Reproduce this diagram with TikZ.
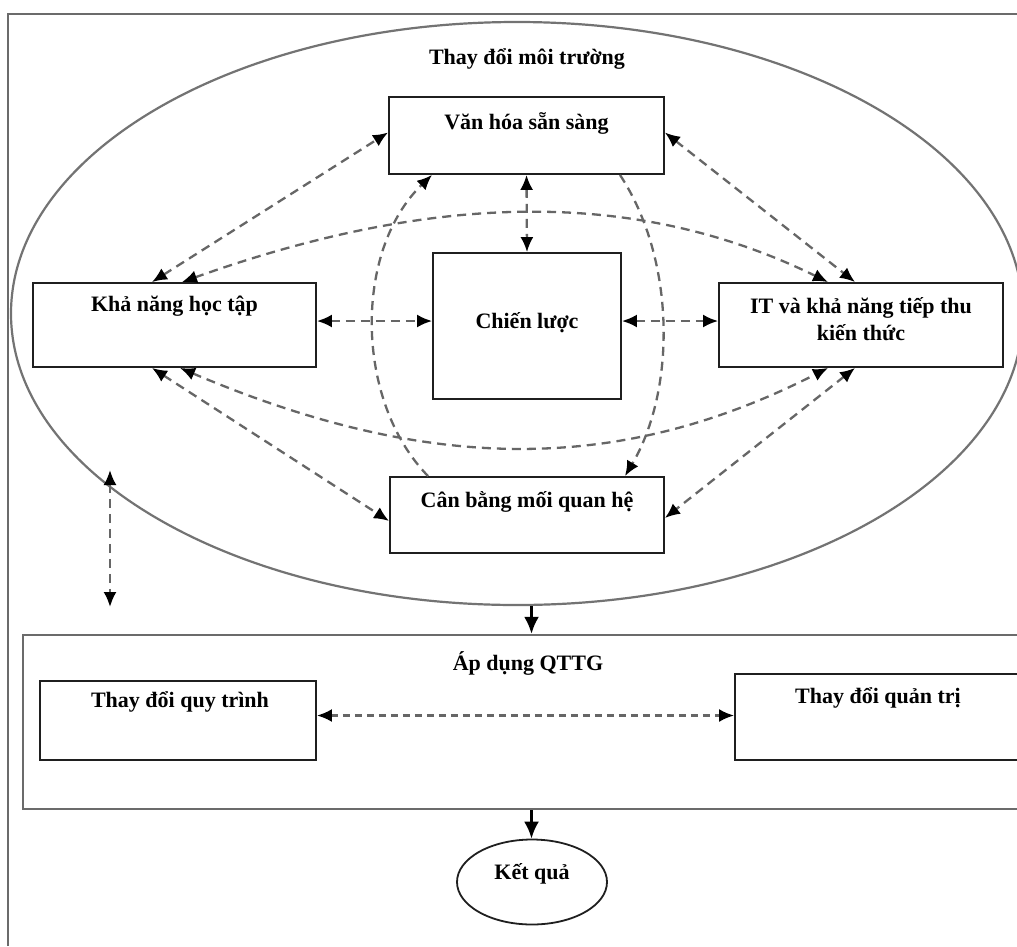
\documentclass[tikz,border=0pt]{standalone}
\usepackage{fontspec}
\setmainfont{Liberation Serif}
\usetikzlibrary{arrows.meta,shapes.geometric,calc}

\begin{document}
\begin{tikzpicture}[x=1pt,y=-1pt,
  font=\fontsize{22}{27}\selectfont\bfseries,
  >={Latex[length=15pt,width=13pt,color=black]},
  box/.style={draw=black!88,line width=1.9pt,rectangle,inner sep=0pt,fill=white},
  lbl/.style={anchor=base,inner sep=0pt},
  link/.style={draw=black!60,line width=2.3pt,dash pattern=on 9pt off 6pt},
  both/.style={link,<->},
  one/.style={link,->},
  flow/.style={draw=black,line width=2.6pt,-{Latex[length=17pt,width=15pt]}},
  frame/.style={draw=black!58,line width=2.6pt},
  env/.style={draw=black!55,line width=2.2pt,ellipse,inner sep=0pt}
]
\useasboundingbox (0,0) rectangle (1017,946);
\clip (0,0) rectangle (1017,946);
\fill[white] (0,0) rectangle (1017,946);

% outer frame (open to the right and bottom)
\draw[frame] (8,946) -- (8,14) -- (1017,14);

% surrounding environment
\node[env,minimum width=1012pt,minimum height=583pt] (env) at (517,313.5) {};
\node[lbl] (envT) at (527,64) {Thay đổi môi trường};

% factor boxes
\node[box,minimum width=275pt,minimum height=77pt] (vh) at (526.5,135.5) {};
\node[lbl] (vhT) at (526.5,129) {Văn hóa sẵn sàng};

\node[box,minimum width=188pt,minimum height=146pt] (cl) at (527,326) {};
\node[lbl] (clT) at (527,328) {Chiến lược};

\node[box,minimum width=283pt,minimum height=84pt] (kn) at (174.5,325) {};
\node[lbl] (knT) at (174.5,311) {Khả năng học tập};

\node[box,minimum width=284pt,minimum height=84pt] (it) at (861,325) {};
\node[inner sep=0pt,align=center] (itT) at (861,319) {IT và khả năng tiếp thu\\kiến thức};

\node[box,minimum width=274pt,minimum height=76pt] (cb) at (527,515) {};
\node[lbl] (cbT) at (527,507) {Cân bằng mối quan hệ};

% attachment points on the boxes
\coordinate (knT1) at ([xshift=-22.5pt]kn.north);
\coordinate (knT2) at ([xshift=7.5pt]kn.north);
\coordinate (knB1) at ([xshift=-22.5pt]kn.south);
\coordinate (knB2) at ([xshift=5.5pt]kn.south);
\coordinate (itT1) at ([xshift=-33pt]it.north);
\coordinate (itT2) at ([xshift=-6pt]it.north);
\coordinate (itB1) at ([xshift=-33pt]it.south);
\coordinate (itB2) at ([xshift=-6pt]it.south);

% links between the factors
\draw[both] (knT1) -- ([yshift=3pt]vh.west);
\draw[both] (knT2) .. controls (440,190) and (640,190) .. (itT1);
\draw[both] ([yshift=3pt]vh.east) -- (itT2);
\draw[both] (vh.south) -- (cl.north);
\draw[both] ([yshift=4pt]kn.east) -- ([yshift=4pt]kn.east -| cl.west);
\draw[both] ([yshift=4pt]kn.east -| cl.east) -- ([yshift=4pt]kn.east -| it.west);
\draw[both] (knB1) -- ([yshift=-6pt]cb.west);
\draw[both] (knB2) .. controls (430,474) and (620,474) .. (itB1);
\draw[both] (itB2) -- ([yshift=-3pt]cb.east);
\draw[one] ([xshift=-99pt]cb.north) .. controls (354,400) and (354,250) .. ([xshift=-94.5pt]vh.south);
\draw[one] ([xshift=93.5pt]vh.south) .. controls (676,260) and (676,390) .. ([xshift=98pt]cb.north);

% feedback between environment and adoption
\coordinate (lvT) at (110,470);
\coordinate (lvB) at (110,607);
\draw[both] (lvT) -- (lvB);

% adoption block
\node[box,minimum width=1017pt,minimum height=174pt,draw=black!58,line width=2.4pt] (ad) at (531.5,722) {};
\node[lbl] (adT) at (528,670) {Áp dụng QTTG};

\node[box,minimum width=276pt,minimum height=79pt] (qt) at (178,720.5) {};
\node[lbl] (qtT) at (180,707) {Thay đổi quy trình};

\node[box,minimum width=305pt,minimum height=86pt] (qtr) at (887.5,717) {};
\node[lbl] (qtrT) at (878,703) {Thay đổi quản trị};

\draw[both,dash pattern=on 7pt off 5pt] ([yshift=5pt]qt.east) -- ([yshift=5pt]qt.east -| qtr.west);

% outcome
\node[draw=black!88,line width=1.8pt,ellipse,inner sep=0pt,minimum width=150pt,minimum height=85pt] (kq) at (532,882) {};
\node[lbl] (kqT) at (532,879) {Kết quả};

\draw[flow] (env.south -| ad.north) -- (ad.north);
\draw[flow] (ad.south) -- (ad.south |- kq.north);
\end{tikzpicture}
\end{document}
